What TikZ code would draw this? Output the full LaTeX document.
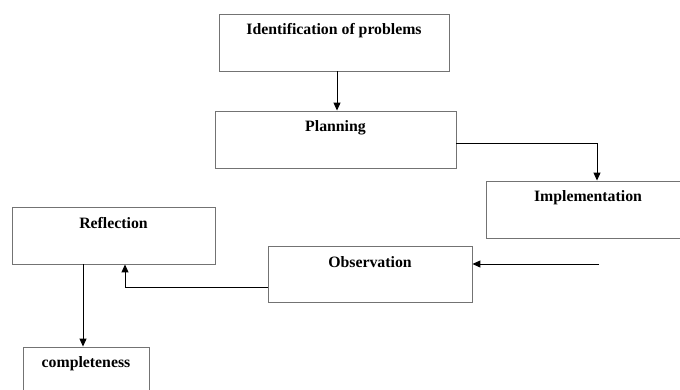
\documentclass[tikz,border=0pt]{standalone}
\usepackage{fontspec}
\setmainfont{Liberation Serif}
\usetikzlibrary{arrows.meta,calc}
\begin{document}
\begin{tikzpicture}[x=1pt,y=-1pt,
  box/.style={draw=black!55,line width=0.9pt,rectangle,inner sep=0pt},
  lbl/.style={font=\bfseries\fontsize{15.8}{18}\selectfont,inner sep=0pt},
  conn/.style={draw=black,line width=1pt},
  arr/.style={conn,-{Triangle[length=8pt,width=7pt]}}]
\useasboundingbox (0,0) rectangle (680,389);
% boxes: centre, size
\node[box,minimum width=230,minimum height=57] (ident) at (334,42.5) {};
\node[box,minimum width=241,minimum height=57] (plan) at (335.5,139.5) {};
\node[box,minimum width=204,minimum height=57] (impl) at (588,209.5) {};
\node[box,minimum width=203,minimum height=57] (refl) at (113.5,235.5) {};
\node[box,minimum width=204,minimum height=56] (obs) at (370,274) {};
\node[box,minimum width=126,minimum height=57] (comp) at (86,375.5) {};
% labels
\node[lbl] (tident) at ($(ident.north)+(0,17)$) {Identification of problems};
\node[lbl] (tplan) at ($(plan.north)+(0,17)$) {Planning};
\node[lbl] (timpl) at ($(impl.north)+(0,17)$) {Implementation};
\node[lbl] (trefl) at ($(refl.north)+(0,16)$) {Reflection};
\node[lbl] (tobs) at ($(obs.north)+(0,17)$) {Observation};
\node[lbl] (tcomp) at ($(comp.north)+(0,17)$) {completeness};
% connectors
\draw[arr] ([xshift=3pt]ident.south) -- ([xshift=3pt]ident.south |- plan.north);
\draw[arr] ([yshift=-3.5pt]plan.east) -| ([xshift=9pt]impl.north);
\coordinate (src) at (599,264);
\draw[arr] (src) -- (src -| obs.east);
\draw[arr] ([yshift=-13pt]obs.west) -| ([xshift=11.5pt]refl.south);
\draw[arr] ([xshift=-30.5pt]refl.south) -- ([xshift=-30.5pt]refl.south |- comp.north);
\end{tikzpicture}
\end{document}
